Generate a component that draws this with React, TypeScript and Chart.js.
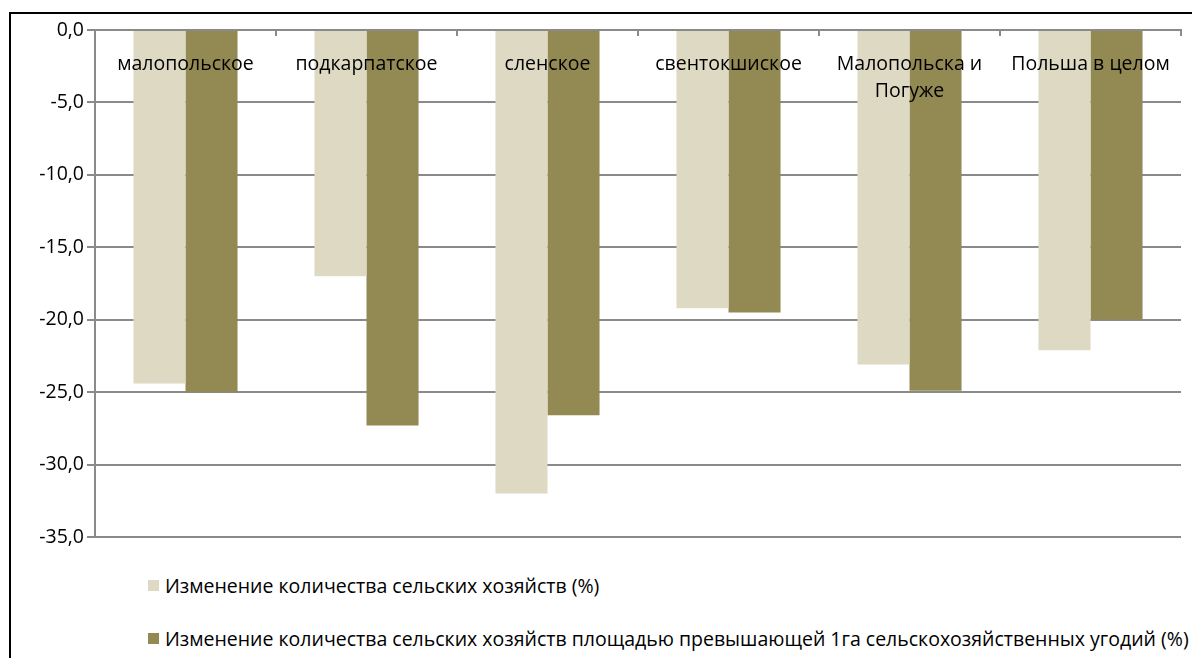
import React, { useEffect, useRef } from "react";
import { Chart, registerables } from "chart.js";

Chart.register(...registerables);

const categories: (string | string[])[] = [
  "малопольское",
  "подкарпатское",
  "сленское",
  "свентокшиское",
  ["Малопольска и", "Погуже"],
  "Польша в целом",
];

const seriesNames = [
  "Изменение количества сельских хозяйств (%)",
  "Изменение количества сельских хозяйств площадью превышающей 1га сельскохозяйственных угодий (%)",
];

const farmsChange = [-24.4, -17.0, -32.0, -19.2, -23.1, -22.1];
const farmsOver1haChange = [-25.0, -27.3, -26.6, -19.5, -24.9, -20.0];

const yTicks = [0, -5, -10, -15, -20, -25, -30, -35];

const colors = ["#DDD9C3", "#938953"];
const FONT = "'Open Sans', sans-serif";
const FONT_SIZE = 19.5;

const categoryLabelPlugin = {
  id: "categoryLabels",
  afterDatasetsDraw(chart: any) {
    const { ctx, scales } = chart;
    const x = scales.x;
    const y = scales.y;
    ctx.save();
    ctx.fillStyle = "#000";
    ctx.font = `${FONT_SIZE}px ${FONT}`;
    ctx.textAlign = "center";
    ctx.textBaseline = "middle";
    const top = y.getPixelForValue(0);
    categories.forEach((c, i) => {
      const lines = Array.isArray(c) ? c : [c];
      const cx = x.getPixelForValue(i);
      lines.forEach((ln, j) => {
        ctx.fillText(ln, cx, top + 34 + j * 27);
      });
    });
    ctx.restore();
  },
};

export default function App() {
  const ref = useRef<HTMLCanvasElement>(null);
  useEffect(() => {
    if (!ref.current) return;
    const chart = new Chart(ref.current, {
      type: "bar",
      data: {
        labels: categories,
        datasets: [
          {
            label: seriesNames[0],
            data: farmsChange,
            backgroundColor: colors[0],
            categoryPercentage: 0.575,
            barPercentage: 1.0,
          },
          {
            label: seriesNames[1],
            data: farmsOver1haChange,
            backgroundColor: colors[1],
            categoryPercentage: 0.575,
            barPercentage: 1.0,
          },
        ],
      },
      options: {
        animation: false,
        responsive: false,
        devicePixelRatio: 1,
        layout: { padding: { left: 0, top: 25, right: 11, bottom: 23 } },
        plugins: {
          legend: { display: false },
          tooltip: { enabled: false },
        },
        scales: {
          x: {
            position: "top",
            offset: true,
            ticks: { display: false },
            grid: {
              offset: true,
              drawOnChartArea: false,
              drawTicks: true,
              tickLength: -6,
              color: "#8a8a8a",
              lineWidth: 2,
            },
            border: { display: true, color: "#8a8a8a", width: 2 },
            afterFit: (s: any) => {
              s.height = 5;
            },
          },
          y: {
            min: -35,
            max: 0,
            afterBuildTicks: (s: any) => {
              s.ticks = yTicks.map((v) => ({ value: v }));
            },
            ticks: {
              color: "#000",
              padding: 3,
              font: { family: FONT, size: FONT_SIZE },
              callback: (v: any) => Number(v).toFixed(1).replace(".", ","),
            },
            grid: {
              color: "#8a8a8a",
              lineWidth: 2,
              tickLength: 8,
            },
            border: { display: true, color: "#8a8a8a", width: 2 },
            afterFit: (s: any) => {
              s.width = 95;
            },
          },
        },
      },
      plugins: [categoryLabelPlugin],
    });
    return () => chart.destroy();
  }, []);

  return (
    <div
      style={{
        position: "fixed",
        left: 0,
        top: 0,
        width: 1192,
        height: 658,
        background: "#fff",
        overflow: "hidden",
        fontFamily: FONT,
      }}
    >
      <div
        style={{
          position: "absolute",
          left: 9,
          top: 12,
          width: 1300,
          height: 800,
          borderLeft: "2px solid #000",
          borderTop: "2px solid #000",
        }}
      />
      <canvas
        ref={ref}
        width={1192}
        height={560}
        style={{ position: "absolute", left: 0, top: 0, width: 1192, height: 560 }}
      />
      <div style={{ position: "absolute", left: 148, top: 570, fontSize: FONT_SIZE, color: "#000" }}>
        {seriesNames.map((n, i) => (
          <div
            key={i}
            style={{ display: "flex", alignItems: "center", height: 30, marginBottom: i === 0 ? 23 : 0, whiteSpace: "nowrap" }}
          >
            <span style={{ display: "inline-block", width: 11, height: 11, background: colors[i], marginRight: 6, flexShrink: 0 }} />
            <span>{n}</span>
          </div>
        ))}
      </div>
    </div>
  );
}
